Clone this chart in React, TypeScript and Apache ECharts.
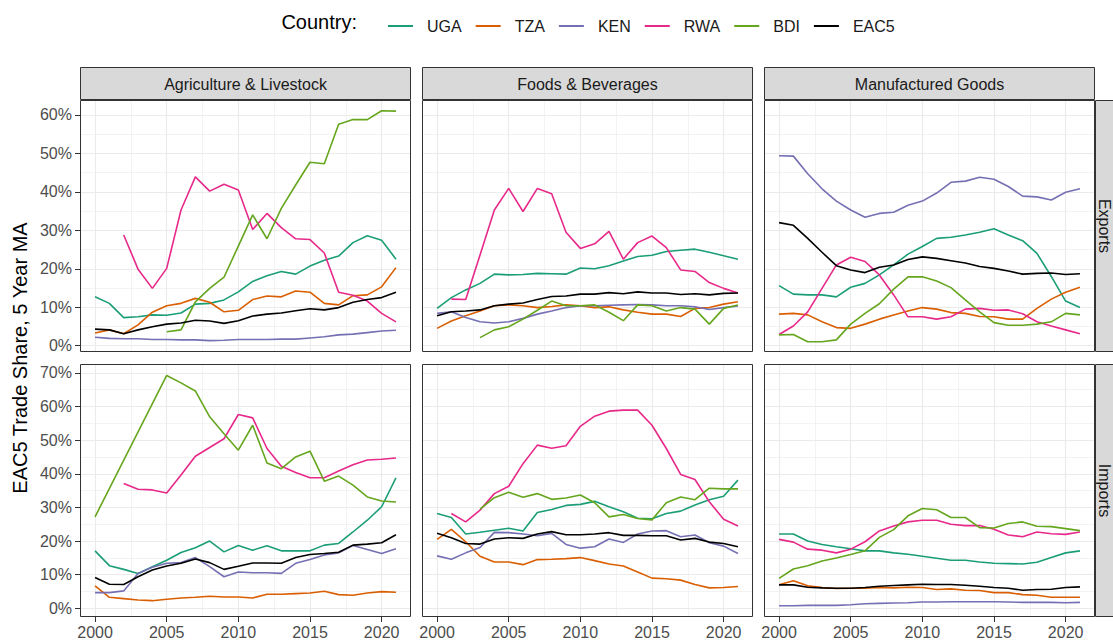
import React, { useEffect, useRef } from "react";
import * as echarts from "echarts";

const YEARS = [2000, 2001, 2002, 2003, 2004, 2005, 2006, 2007, 2008, 2009, 2010, 2011, 2012, 2013, 2014, 2015, 2016, 2017, 2018, 2019, 2020, 2021];
const COUNTRIES = ["UGA", "TZA", "KEN", "RWA", "BDI", "EAC5"];
const COLORS = ["#1B9E77", "#D95F02", "#7570B3", "#E7298A", "#66A61E", "#000000"];
const SECTORS = ["Agriculture & Livestock", "Foods & Beverages", "Manufactured Goods"];
const FLOWS = ["Exports", "Imports"];
const X_TICKS = [2000, 2005, 2010, 2015, 2020];
const Y_TICKS_EXPORTS = [0, 10, 20, 30, 40, 50, 60];
const Y_TICKS_IMPORTS = [0, 10, 20, 30, 40, 50, 60, 70];

// Agriculture & Livestock - Exports
const AG_EX_UGA = [12.7, 11.0, 7.3, 7.5, 8.0, 7.9, 8.5, 10.8, 11.0, 11.9, 14.0, 16.7, 18.2, 19.3, 18.6, 20.7, 22.2, 23.3, 26.8, 28.6, 27.4, 22.5];
const AG_EX_TZA = [3.3, 4.1, 3.1, 5.4, 8.7, 10.4, 11.0, 12.3, 11.3, 8.8, 9.2, 12.0, 12.9, 12.7, 14.2, 13.9, 11.0, 10.6, 13.0, 13.2, 15.3, 20.3];
const AG_EX_KEN = [2.2, 1.9, 1.8, 1.8, 1.6, 1.6, 1.5, 1.5, 1.3, 1.4, 1.6, 1.6, 1.6, 1.7, 1.7, 2.0, 2.3, 2.8, 3.0, 3.4, 3.8, 4.0];
const AG_EX_RWA = [null, null, 28.8, 19.9, 14.9, 20.1, 35.3, 43.9, 40.2, 42.0, 40.5, 30.2, 34.4, 30.7, 27.8, 27.6, 24.1, 13.9, 13.1, 11.6, 8.4, 6.2];
const AG_EX_BDI = [null, null, null, null, null, 3.6, 4.1, 11.4, 14.9, 17.8, 25.9, 34.0, 27.8, 35.7, 41.8, 47.7, 47.3, 57.6, 58.8, 58.8, 61.1, 61.0];
const AG_EX_EAC5 = [4.3, 4.1, 3.1, 4.1, 4.9, 5.6, 5.9, 6.6, 6.4, 5.8, 6.5, 7.7, 8.2, 8.5, 9.1, 9.6, 9.3, 9.9, 11.3, 12.0, 12.5, 13.9];

// Foods & Beverages - Exports
const FB_EX_UGA = [9.7, 12.5, 14.5, 16.2, 18.6, 18.4, 18.5, 18.8, 18.7, 18.6, 20.2, 20.0, 20.8, 22.0, 23.2, 23.5, 24.5, 24.8, 25.1, 24.3, 23.4, 22.5];
const FB_EX_TZA = [4.5, 6.4, 7.8, 9.0, 10.4, 10.6, 10.4, 9.9, 10.2, 10.6, 10.4, 9.9, 10.1, 9.3, 8.7, 8.2, 8.2, 7.6, 9.7, 9.9, 10.8, 11.4];
const FB_EX_KEN = [8.4, 8.8, 7.3, 6.2, 5.9, 6.2, 7.1, 8.2, 9.0, 9.9, 10.4, 10.4, 10.5, 10.6, 10.7, 10.6, 10.4, 10.4, 10.1, 9.4, 9.9, 10.3];
const FB_EX_RWA = [null, 12.1, 12.0, 23.6, 35.3, 40.9, 34.9, 40.9, 39.5, 29.5, 25.3, 26.5, 29.7, 22.5, 26.8, 28.5, 25.5, 19.7, 19.3, 16.4, 14.9, 13.7];
const FB_EX_BDI = [null, null, null, 2.1, 4.1, 4.9, 6.9, 9.2, 11.6, 10.4, 10.4, 10.6, 8.7, 6.5, 10.6, 10.4, 9.0, 9.9, 9.5, 5.6, 9.7, 10.6];
const FB_EX_EAC5 = [7.8, 8.8, 9.0, 9.3, 10.4, 10.8, 11.1, 12.0, 12.8, 12.9, 13.4, 13.4, 13.8, 13.5, 14.0, 13.7, 13.7, 13.3, 13.5, 13.2, 13.6, 13.7];

// Manufactured Goods - Exports
const MG_EX_UGA = [15.6, 13.4, 13.2, 13.2, 12.7, 15.2, 16.2, 18.4, 21.0, 23.8, 25.8, 27.9, 28.2, 28.8, 29.5, 30.4, 28.8, 27.3, 24.0, 18.0, 11.6, 9.9];
const MG_EX_TZA = [8.2, 8.4, 8.0, 6.2, 4.7, 4.5, 5.6, 6.9, 8.0, 9.0, 9.9, 9.5, 8.6, 8.4, 7.6, 7.5, 6.9, 6.9, 9.7, 12.1, 13.9, 15.2];
const MG_EX_KEN = [49.4, 49.3, 44.7, 40.8, 37.6, 35.3, 33.4, 34.4, 34.7, 36.5, 37.6, 39.7, 42.5, 42.8, 43.8, 43.3, 41.4, 38.9, 38.7, 37.9, 39.9, 40.8];
const MG_EX_RWA = [2.9, 5.1, 8.8, 14.9, 21.0, 23.0, 21.9, 18.4, 13.2, 7.5, 7.5, 6.9, 7.5, 9.5, 9.7, 9.2, 9.3, 8.3, 6.2, 5.1, 4.1, 3.1];
const MG_EX_BDI = [2.8, 2.9, 1.0, 1.0, 1.5, 5.6, 8.4, 10.9, 14.7, 17.9, 17.9, 16.8, 15.1, 11.9, 8.8, 6.0, 5.3, 5.3, 5.6, 6.2, 8.4, 8.0];
const MG_EX_EAC5 = [32.0, 31.3, 27.9, 24.3, 20.8, 19.7, 19.0, 20.4, 21.0, 22.4, 23.1, 22.7, 22.1, 21.5, 20.6, 20.1, 19.4, 18.6, 18.8, 18.9, 18.5, 18.7];

// Agriculture & Livestock - Imports
const AG_IM_UGA = [17.1, 12.7, 11.6, 10.4, 12.4, 14.3, 16.6, 18.0, 20.0, 16.8, 18.7, 17.3, 18.6, 17.1, 17.1, 17.1, 18.8, 19.3, 22.7, 26.2, 30.2, 38.8];
const AG_IM_TZA = [6.7, 3.3, 2.9, 2.5, 2.3, 2.7, 3.1, 3.3, 3.6, 3.4, 3.4, 3.1, 4.2, 4.2, 4.4, 4.6, 5.1, 4.1, 3.9, 4.6, 5.0, 4.8];
const AG_IM_KEN = [4.7, 4.7, 5.2, 10.4, 12.2, 13.4, 13.6, 15.1, 12.4, 9.4, 10.8, 10.6, 10.6, 10.4, 13.4, 14.5, 15.9, 16.5, 18.7, 17.5, 16.3, 17.7];
const AG_IM_RWA = [null, null, 37.1, 35.4, 35.2, 34.3, 39.6, 45.2, 47.8, 50.4, 57.6, 56.6, 47.5, 42.2, 40.4, 38.8, 38.8, 40.8, 42.7, 44.1, 44.3, 44.7];
const AG_IM_BDI = [27.2, null, null, null, null, 69.2, 67.0, 64.6, 56.9, 51.9, 47.0, 54.4, 43.2, 41.5, 45.0, 46.7, 37.8, 39.3, 36.6, 33.1, 31.9, 31.6];
const AG_IM_EAC5 = [9.2, 7.2, 7.1, 9.4, 11.4, 12.6, 13.4, 14.7, 13.6, 11.6, 12.5, 13.5, 13.5, 13.4, 15.1, 16.0, 16.3, 16.7, 18.8, 19.1, 19.5, 21.9];

// Foods & Beverages - Imports
const FB_IM_UGA = [28.2, 27.0, 22.1, 22.6, 23.2, 23.8, 23.0, 28.5, 29.4, 30.6, 30.9, 31.8, 30.2, 28.7, 26.8, 26.6, 28.2, 28.9, 30.7, 32.3, 33.3, 38.1];
const FB_IM_TZA = [20.5, 23.5, 19.8, 15.5, 13.8, 13.8, 13.0, 14.5, 14.6, 14.8, 15.1, 14.2, 13.2, 12.6, 10.8, 9.0, 8.8, 8.4, 7.1, 6.1, 6.2, 6.5];
const FB_IM_KEN = [15.6, 14.6, 16.5, 18.1, 22.6, 22.5, 22.1, 21.6, 22.3, 19.0, 17.9, 18.3, 20.6, 19.6, 22.1, 23.0, 23.1, 21.3, 21.8, 19.5, 18.5, 16.3];
const FB_IM_RWA = [null, 28.2, 25.7, 29.2, 34.1, 36.3, 43.0, 48.5, 47.6, 48.3, 54.1, 57.1, 58.6, 58.9, 58.9, 54.4, 47.5, 39.8, 38.3, 31.7, 26.5, 24.5];
const FB_IM_BDI = [null, null, null, 29.5, 32.9, 34.5, 33.0, 34.1, 32.4, 32.8, 33.7, 31.4, 27.2, 27.9, 26.7, 26.3, 31.4, 33.1, 32.3, 35.7, 35.5, 35.5];
const FB_IM_EAC5 = [22.3, 21.0, 19.3, 19.1, 20.6, 21.0, 20.8, 22.1, 22.8, 21.9, 21.9, 22.1, 22.5, 21.7, 21.7, 21.6, 21.6, 20.3, 20.8, 19.7, 19.3, 18.3];

// Manufactured Goods - Imports
const MG_IM_UGA = [22.1, 22.1, 20.0, 19.0, 18.3, 17.7, 17.1, 17.1, 16.5, 16.1, 15.5, 14.9, 14.3, 14.3, 13.8, 13.4, 13.3, 13.2, 13.7, 15.1, 16.5, 17.1];
const MG_IM_TZA = [7.0, 8.2, 6.7, 6.2, 5.9, 6.0, 6.0, 6.2, 6.1, 6.3, 6.2, 5.6, 5.8, 5.4, 5.3, 4.7, 4.7, 4.1, 3.9, 3.3, 3.3, 3.3];
const MG_IM_KEN = [0.8, 0.8, 0.9, 0.9, 0.9, 1.1, 1.4, 1.5, 1.6, 1.7, 1.9, 1.9, 2.0, 2.0, 2.0, 2.0, 1.9, 1.8, 1.8, 1.8, 1.7, 1.8];
const MG_IM_RWA = [20.5, 19.7, 17.6, 17.3, 16.5, 17.6, 19.8, 23.0, 24.5, 25.7, 26.2, 26.2, 25.0, 24.6, 24.6, 23.5, 21.8, 21.3, 22.7, 22.2, 22.0, 22.7];
const MG_IM_BDI = [8.9, 11.7, 12.7, 14.1, 15.0, 16.0, 17.1, 21.1, 23.4, 27.5, 29.7, 29.3, 27.0, 27.0, 24.0, 23.9, 25.2, 25.7, 24.4, 24.3, 23.7, 23.1];
const MG_IM_EAC5 = [7.0, 7.0, 6.3, 6.1, 6.0, 6.0, 6.2, 6.6, 6.8, 7.0, 7.2, 7.1, 7.1, 6.9, 6.6, 6.2, 6.0, 5.4, 5.6, 5.7, 6.2, 6.4];

const PANEL_DATA = [
  [AG_EX_UGA, AG_EX_TZA, AG_EX_KEN, AG_EX_RWA, AG_EX_BDI, AG_EX_EAC5],
  [FB_EX_UGA, FB_EX_TZA, FB_EX_KEN, FB_EX_RWA, FB_EX_BDI, FB_EX_EAC5],
  [MG_EX_UGA, MG_EX_TZA, MG_EX_KEN, MG_EX_RWA, MG_EX_BDI, MG_EX_EAC5],
  [AG_IM_UGA, AG_IM_TZA, AG_IM_KEN, AG_IM_RWA, AG_IM_BDI, AG_IM_EAC5],
  [FB_IM_UGA, FB_IM_TZA, FB_IM_KEN, FB_IM_RWA, FB_IM_BDI, FB_IM_EAC5],
  [MG_IM_UGA, MG_IM_TZA, MG_IM_KEN, MG_IM_RWA, MG_IM_BDI, MG_IM_EAC5],
];

const FONT = "'Liberation Sans', Arial, Helvetica, sans-serif";
const COL_LEFT = [80, 422, 764];
const COL_W = 331;
const ROW_TOP = [100, 364];
const ROW_H = [252, 253];
const Y_RANGE = [
  [-1.65, 63.9],
  [-2.55, 72.6],
];
const X_MIN = 1998.95;
const X_MAX = 2022.05;
const GRID_COL = "#EBEBEB";

function buildOption() {
  const grids: any[] = [];
  const xAxes: any[] = [];
  const yAxes: any[] = [];
  const series: any[] = [];
  const graphics: any[] = [];

  for (let r = 0; r < 2; r++) {
    for (let c = 0; c < 3; c++) {
      const p = r * 3 + c;
      grids.push({
        left: COL_LEFT[c],
        top: ROW_TOP[r],
        width: COL_W,
        height: ROW_H[r],
        containLabel: false,
      });
      xAxes.push({
        type: "value",
        gridIndex: p,
        min: X_MIN,
        max: X_MAX,
        minInterval: 5,
        maxInterval: 5,
        axisLine: { show: false, onZero: false },
        axisTick: {
          show: r === 1,
          length: 5,
          customValues: X_TICKS,
          lineStyle: { color: "#333333", width: 1 },
        },
        axisLabel: {
          show: r === 1,
          customValues: X_TICKS,
          formatter: (v: number) => String(v),
          fontSize: 16,
          color: "#4D4D4D",
          fontFamily: FONT,
          margin: 7,
        },
        splitLine: { show: true, lineStyle: { color: GRID_COL, width: 1.1 } },
        minorTick: { show: false, splitNumber: 2 },
        minorSplitLine: { show: true, lineStyle: { color: GRID_COL, width: 0.6 } },
      });
      const yt = r === 0 ? Y_TICKS_EXPORTS : Y_TICKS_IMPORTS;
      yAxes.push({
        type: "value",
        gridIndex: p,
        min: Y_RANGE[r][0],
        max: Y_RANGE[r][1],
        minInterval: 10,
        maxInterval: 10,
        axisLine: { show: false, onZero: false },
        axisTick: {
          show: c === 0,
          length: 5,
          customValues: yt,
          lineStyle: { color: "#333333", width: 1 },
        },
        axisLabel: {
          show: c === 0,
          customValues: yt,
          formatter: (v: number) => Math.round(v) + "%",
          fontSize: 16,
          color: "#4D4D4D",
          fontFamily: FONT,
          margin: 8,
        },
        splitLine: { show: true, lineStyle: { color: GRID_COL, width: 1.1 } },
        minorTick: { show: false, splitNumber: 2 },
        minorSplitLine: { show: true, lineStyle: { color: GRID_COL, width: 0.6 } },
      });
      PANEL_DATA[p].forEach((arr, k) => {
        series.push({
          type: "line",
          name: COUNTRIES[k],
          xAxisIndex: p,
          yAxisIndex: p,
          data: YEARS.map((yr, i) => [yr, arr[i] == null ? null : arr[i]]),
          showSymbol: false,
          symbol: "none",
          connectNulls: true,
          silent: true,
          lineStyle: { width: 1.6, color: COLORS[k] },
          itemStyle: { color: COLORS[k] },
          emphasis: { disabled: true },
          z: 2 + k * 0.01,
        });
      });
      // panel border
      graphics.push({
        type: "rect",
        shape: { x: COL_LEFT[c] + 0.5, y: ROW_TOP[r] + 0.5, width: COL_W - 1, height: ROW_H[r] - 1 },
        style: { fill: "none", stroke: "#333333", lineWidth: 1 },
        silent: true,
        z: 100,
      });
    }
  }

  // top strips
  for (let c = 0; c < 3; c++) {
    graphics.push({
      type: "rect",
      shape: { x: COL_LEFT[c] + 0.5, y: 67.5, width: COL_W - 1, height: 32 },
      style: { fill: "#D9D9D9", stroke: "#333333", lineWidth: 1 },
      silent: true,
      z: 100,
    });
    graphics.push({
      type: "text",
      x: COL_LEFT[c] + COL_W / 2,
      y: 84,
      style: {
        text: SECTORS[c],
        fill: "#1A1A1A",
        fontSize: 16,
        fontFamily: FONT,
        align: "center",
        verticalAlign: "middle",
      },
      silent: true,
      z: 101,
    });
  }
  // right strips
  for (let r = 0; r < 2; r++) {
    graphics.push({
      type: "rect",
      shape: { x: 1095.5, y: ROW_TOP[r] + 0.5, width: 32, height: ROW_H[r] - 1 },
      style: { fill: "#D9D9D9", stroke: "#333333", lineWidth: 1 },
      silent: true,
      z: 100,
    });
    graphics.push({
      type: "text",
      x: 1104.5,
      y: ROW_TOP[r] + ROW_H[r] / 2,
      rotation: -Math.PI / 2,
      style: {
        text: FLOWS[r],
        fill: "#1A1A1A",
        fontSize: 16,
        fontFamily: FONT,
        align: "center",
        verticalAlign: "middle",
      },
      silent: true,
      z: 101,
    });
  }
  // legend title
  graphics.push({
    type: "text",
    x: 357,
    y: 22,
    style: {
      text: "Country:",
      fill: "#000000",
      fontSize: 20,
      fontFamily: FONT,
      align: "right",
      verticalAlign: "middle",
    },
    silent: true,
  });
  // y axis title
  graphics.push({
    type: "text",
    x: 20,
    y: 358,
    rotation: Math.PI / 2,
    style: {
      text: "EAC5 Trade Share, 5 Year MA",
      fill: "#000000",
      fontSize: 20,
      fontFamily: FONT,
      align: "center",
      verticalAlign: "middle",
    },
    silent: true,
  });

  return {
    animation: false,
    backgroundColor: "#FFFFFF",
    color: COLORS,
    textStyle: { fontFamily: FONT },
    legend: {
      show: true,
      left: 383,
      top: 13,
      icon: "rect",
      itemWidth: 25,
      itemHeight: 2,
      itemGap: 14,
      selectedMode: false,
      data: COUNTRIES,
      textStyle: {
        fontSize: 16,
        color: "#1A1A1A",
        fontFamily: FONT,
        padding: [0, 0, 0, 9],
      },
    },
    grid: grids,
    xAxis: xAxes,
    yAxis: yAxes,
    series,
    graphic: graphics,
  };
}

export default function App() {
  const ref = useRef<HTMLDivElement>(null);
  useEffect(() => {
    if (!ref.current) return;
    const chart = echarts.init(ref.current, null, { renderer: "svg" });
    chart.setOption(buildOption() as any);
    return () => {
      chart.dispose();
    };
  }, []);
  return (
    <div
      ref={ref}
      style={{ position: "absolute", left: 0, top: 0, width: 1113, height: 640, background: "#FFFFFF" }}
    />
  );
}
